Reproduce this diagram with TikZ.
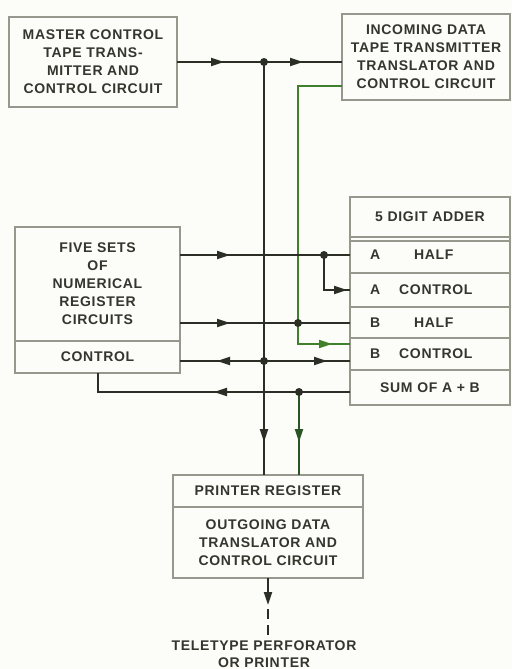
\documentclass[tikz,border=0pt]{standalone}
\usepackage{fontspec}
\setmainfont{Liberation Sans}[LetterSpace=5]
\definecolor{sheetPaper}{RGB}{252,252,248}
\definecolor{sheetFrame}{RGB}{150,152,142}
\definecolor{sheetInk}{RGB}{42,46,36}
\definecolor{sheetText}{RGB}{52,54,46}
\definecolor{sheetGreen}{RGB}{64,128,44}
\definecolor{sheetDeepGreen}{RGB}{42,84,36}
\usetikzlibrary{arrows.meta,positioning,decorations.markings}

\begin{document}
\begin{tikzpicture}[x=1pt, y=-1pt,
  unit/.style={draw=sheetFrame, line width=1.2pt, fill=sheetPaper, outer sep=0pt, inner sep=0pt,
               align=center, text=sheetText, font=\fontsize{14}{18}\selectfont\bfseries},
  slot/.style={unit, minimum width=160pt, text width=120pt, align=left},
  wire/.style={draw=sheetInk, line width=2pt},
  greenwire/.style={wire, draw=sheetGreen},
  tipat/.style={postaction={decorate}, decoration={markings,
      mark=at position #1pt with {\arrow{Triangle[length=13pt,width=8pt]}}}}
]
  \fill[sheetPaper] (0,0) rectangle (512,669);
  \useasboundingbox (0,0) rectangle (512,669);

  \node[unit, minimum width=168pt, minimum height=90pt] (master) at (93,62)
    {MASTER CONTROL\\TAPE TRANS-\\MITTER AND\\CONTROL CIRCUIT};
  \node[unit, minimum width=168pt, minimum height=86pt] (incoming) at (426,57)
    {INCOMING DATA\\TAPE TRANSMITTER\\TRANSLATOR AND\\CONTROL CIRCUIT};

  \node[unit, minimum width=165pt, minimum height=114pt] (fivesets) at (97.5,284)
    {FIVE SETS\\OF\\NUMERICAL\\REGISTER\\CIRCUITS};
  \node[unit, minimum width=165pt, minimum height=32pt, below=0pt of fivesets] (regctl) {CONTROL};

  \node[unit, minimum width=160pt, minimum height=40pt] (adder) at (430,217) {5 DIGIT ADDER};
  \node[slot, minimum height=36pt, below=0pt of adder] (ahalf) {A\hspace{34pt}HALF};
  \node[slot, minimum height=34pt, below=0pt of ahalf] (actl) {A\hspace{19pt}CONTROL};
  \node[slot, minimum height=31pt, below=0pt of actl] (bhalf) {B\hspace{34pt}HALF};
  \node[slot, minimum height=32pt, below=0pt of bhalf] (bctl) {B\hspace{19pt}CONTROL};
  \node[slot, align=center, minimum height=35pt, below=0pt of bctl] (sum) {SUM OF A + B};
  \draw[draw=sheetFrame, line width=1.2pt] ([yshift=-4pt]adder.south west) -- ([yshift=-4pt]adder.south east);

  \node[unit, minimum width=190pt, minimum height=32pt] (prreg) at (268,491) {PRINTER REGISTER};
  \node[unit, minimum width=190pt, minimum height=71pt, below=0pt of prreg] (outgoing)
    {OUTGOING DATA\\TRANSLATOR AND\\CONTROL CIRCUIT};
  \node[align=center, inner sep=2pt, text=sheetText, font=\fontsize{14}{17}\selectfont\bfseries] (teletype) at (264,654)
    {TELETYPE PERFORATOR\\OR PRINTER};

  \coordinate (j1) at (264,62);
  \coordinate (ja) at (324,255);
  \coordinate (jb) at (298,323);
  \coordinate (jc) at (264,361);
  \coordinate (js) at (299,392);
  \coordinate (sc) at (98,392);

  \draw[wire, tipat=47] (master.east) -- (j1);
  \draw[wire, tipat=39] (j1) -- (incoming.west |- j1);
  \draw[wire, tipat=380] (j1) -- (prreg.north -| j1);
  \draw[greenwire] ([yshift=-29pt]incoming.west) -| (jb);
  \draw[greenwire, tipat=55] (jb) |- ([yshift=10pt]bctl.west);
  \draw[wire, tipat=50] (fivesets.east |- ja) -- (ja) -- (ahalf.west |- ja);
  \draw[wire, tipat=58] (ja) |- (actl.west);
  \draw[wire, tipat=50] (fivesets.east |- jb) -- (jb) -- (bhalf.west |- jb);
  \draw[wire, tipat=47] (jc) -- (regctl.east |- jc);
  \draw[wire, tipat=63] (jc) -- (bctl.west |- jc);
  \draw[wire, tipat=136] (sum.west |- js) -- (js) -- (sc) -- (sc |- regctl.south);
  \draw[wire, draw=sheetDeepGreen, tipat=50] (js) -- (prreg.north -| js);
  \draw[wire, -{Triangle[length=13pt,width=8pt]}] (outgoing.south) -- ([yshift=-27pt]outgoing.south);
  \draw[wire, dash pattern=on 10pt off 6pt] ([yshift=-31pt]outgoing.south) -- (teletype.north -| outgoing.south);
  \foreach \j in {j1,ja,jb,jc,js} \fill[sheetInk] (\j) circle (4pt);
\end{tikzpicture}
\end{document}
